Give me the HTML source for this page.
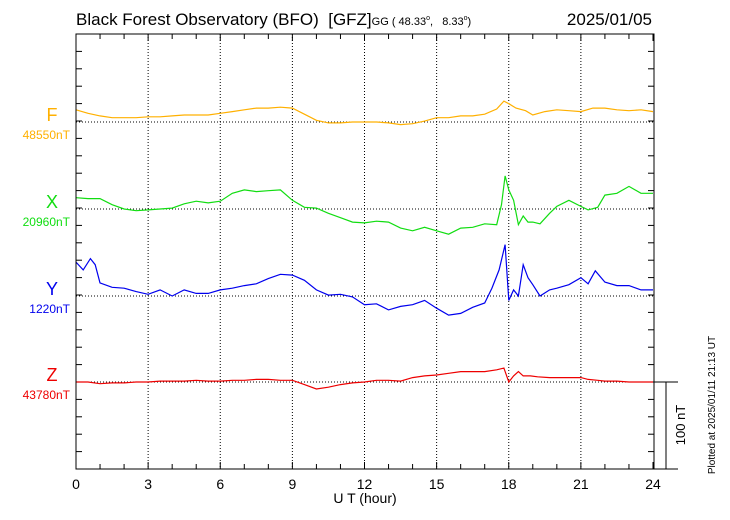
<!DOCTYPE html>
<html><head><meta charset="utf-8"><style>
body{margin:0;background:#fff;}
svg{display:block;font-family:"Liberation Sans",sans-serif;}
</style></head><body>
<svg id="chart" width="730" height="520" viewBox="0 0 730 520" xmlns="http://www.w3.org/2000/svg">
<text x="76" y="25" font-size="17" xml:space="preserve">Black Forest Observatory (BFO)&#160;&#160;[GFZ]<tspan font-size="11">GG (&#160;48.33<tspan font-size="7" dy="-5">o</tspan><tspan dy="5">,&#160;&#160;&#160;8.33</tspan><tspan font-size="7" dy="-5">o</tspan><tspan dy="5">)</tspan></tspan></text>
<text x="652" y="25" font-size="17" text-anchor="end">2025/01/05</text>
<g id="grid"></g>
<g id="series"></g>
<rect x="76" y="34" width="578" height="435" fill="none" stroke="#000" stroke-width="1"/>
<line x1="654" y1="382" x2="678" y2="382" stroke="#000"/>
<line x1="666" y1="382" x2="666" y2="469" stroke="#000"/>
<line x1="654" y1="469" x2="678" y2="469" stroke="#000"/>
<text transform="translate(685,425) rotate(-90)" font-size="13" text-anchor="middle">100 nT</text>
<text transform="translate(715,405) rotate(-90)" font-size="10" text-anchor="middle">Plotted at 2025/01/11 21:13 UT</text>
<text x="365" y="503" font-size="14" text-anchor="middle">U T (hour)</text>
</svg>
<script>
const xTicks=[0,3,6,9,12,15,18,21,24];
const seriesNames=["F","X","Y","Z"];
const baseLabels=["48550nT","20960nT","1220nT","43780nT"];
const fHours=[0,0.5,1,1.5,2,2.5,3,3.5,4,4.5,5,5.5,6,6.5,7,7.5,8,8.5,9,9.5,10,10.5,11,11.5,12,12.5,13,13.5,14,14.5,15,15.5,16,16.5,17,17.5,17.8,18,18.3,18.7,19,19.5,20,20.5,21,21.5,22,22.5,23,23.5,24];
const fVals=[14,10,7,5,5,5,6,6,7,8,8,8,10,12,14,16,16,17,16,9,2,-1,-1,0,0,0,-1,-3,-2,1,5,5,7,7,9,15,24,21,16,13,8,12,14,13,12,16,16,14,13,14,12];
const xHours=[0,0.5,1,1.5,2,2.5,3,3.5,4,4.5,5,5.5,6,6.5,7,7.5,8,8.5,9,9.5,10,10.5,11,11.5,12,12.5,13,13.5,14,14.5,15,15.5,16,16.5,17,17.5,17.7,17.85,18,18.2,18.4,18.6,18.8,19,19.3,19.7,20,20.5,21,21.3,21.7,22,22.5,23,23.5,24];
const xVals=[13,12,12,5,0,-2,-1,0,1,6,9,7,9,18,22,20,21,22,10,2,1,-5,-10,-15,-16,-14,-15,-22,-25,-21,-25,-29,-22,-21,-17,-18,5,38,22,10,-18,-8,-15,-15,-17,-5,3,10,3,-1,2,16,18,26,18,18];
const yHours=[0,0.3,0.6,0.8,1,1.5,2,2.5,3,3.5,4,4.5,5,5.5,6,6.5,7,7.5,8,8.5,9,9.5,10,10.5,11,11.5,12,12.5,13,13.5,14,14.5,15,15.5,16,16.5,17,17.3,17.6,17.85,18,18.2,18.4,18.6,18.8,19,19.3,19.7,20,20.5,21,21.3,21.6,22,22.5,23,23.5,24];
const yVals=[39,30,43,36,15,10,9,5,2,7,0,7,3,3,7,9,12,14,20,25,24,18,7,1,2,-1,-10,-9,-16,-12,-10,-5,-14,-22,-20,-13,-8,9,30,59,-5,7,0,36,21,13,0,7,9,13,21,14,29,16,12,12,7,7];
const zHours=[0,0.5,1,1.5,2,2.5,3,3.5,4,4.5,5,5.5,6,6.5,7,7.5,8,8.5,9,9.5,10,10.5,11,11.5,12,12.5,13,13.5,14,14.5,15,15.5,16,16.5,17,17.5,17.8,18,18.2,18.4,18.6,18.9,19.2,19.7,20,20.5,21,21.3,21.7,22,22.5,23,23.5,24];
const zVals=[0,0,-2,-1,-1,0,0,1,1,1,2,1,1,2,2,3,3,2,2,-3,-8,-6,-3,-1,0,2,2,1,5,7,8,10,12,12,12,14,16,0,7,12,7,7,6,5,5,5,5,3,2,1,1,0,0,0];

const NS="http://www.w3.org/2000/svg";
const X0=76,X1=653,T=34,B=469,PXNT=0.87;
const bases=[122,209,296,382];
const colors=["#ffb000","#11dd11","#0000ee","#ee0000"];
const xs=h=>X0+(X1-X0)*h/24;
const ys=(i,v)=>bases[i]-v*PXNT;
function mk(tag,attrs,parent){const e=document.createElementNS(NS,tag);for(const k in attrs)e.setAttribute(k,attrs[k]);parent.appendChild(e);return e;}
const grid=document.getElementById('grid'),ser=document.getElementById('series'),svg=document.getElementById('chart');
xTicks.forEach(h=>{
  if(h>0&&h<24){const l=mk('line',{x1:xs(h),y1:T,x2:xs(h),y2:B,stroke:'#000','stroke-dasharray':'1,2'},grid);
  
  }
  const t=mk('text',{x:xs(h),y:489,'font-size':14,'text-anchor':'middle'},svg);t.textContent=h;
  
  
});
for(let h=0;h<=24;h++){
  const len=h%3===0?7:5;
  const a=mk('line',{x1:xs(h),y1:B,x2:xs(h),y2:B-len,stroke:'#000'},grid);
  
  
  const b=mk('line',{x1:xs(h),y1:T,x2:xs(h),y2:T+len,stroke:'#000'},grid);
  
  
}
for(let k=0;k<=25;k++){
  const y=B-k*17.4;
  const a=mk('line',{x1:X0,y1:y,x2:X0+6,y2:y,stroke:'#000'},grid);
  
  
  const b=mk('line',{x1:654-6,y1:y,x2:654,y2:y,stroke:'#000'},grid);
  
  
}
const H=[fHours,xHours,yHours,zHours],V=[fVals,xVals,yVals,zVals];
seriesNames.forEach((n,i)=>{
  const bl=mk('line',{x1:X0,y1:bases[i],x2:654,y2:bases[i],stroke:'#000','stroke-dasharray':'1,2'},grid);
  
  
  const d=H[i].map((h,j)=>(j?'L':'M')+xs(h).toFixed(1)+','+ys(i,V[i][j]).toFixed(1)).join('');
  const p=mk('path',{d:d,fill:'none',stroke:colors[i],'stroke-width':1.2},ser);
  
  
  const t=mk('text',{x:52,y:bases[i]-1,'font-size':18,'text-anchor':'middle',fill:colors[i]},svg);t.textContent=n;
  
  
  const b=mk('text',{x:70,y:bases[i]+17,'font-size':12,'text-anchor':'end',fill:colors[i]},svg);b.textContent=baseLabels[i];
  
  
});
</script>
</body></html>
